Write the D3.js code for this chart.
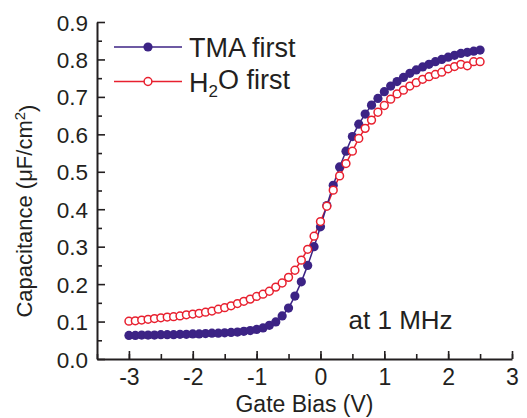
<!DOCTYPE html>
<html>
<head>
<meta charset="utf-8">
<script src="https://cdn.jsdelivr.net/npm/d3@7"></script>
<style>
  body { margin: 0; background: #fff; }
  text { font-family: "Liberation Sans", Arial, sans-serif; fill: #231f20; }
</style>
</head>
<body>
<div id="chart"></div>
<script>
// gate bias (V), one reading per 0.1 V
var bias = [-3.0, -2.9, -2.8, -2.7, -2.6, -2.5, -2.4, -2.3, -2.2, -2.1,
            -2.0, -1.9, -1.8, -1.7, -1.6, -1.5, -1.4, -1.3, -1.2, -1.1,
            -1.0, -0.9, -0.8, -0.7, -0.6, -0.5, -0.4, -0.3, -0.2, -0.1,
             0.0,  0.1,  0.2,  0.3,  0.4,  0.5,  0.6,  0.7,  0.8,  0.9,
             1.0,  1.1,  1.2,  1.3,  1.4,  1.5,  1.6,  1.7,  1.8,  1.9,
             2.0,  2.1,  2.2,  2.3,  2.4,  2.5];

var tmaFirst = [0.063, 0.063, 0.064, 0.064, 0.064, 0.065, 0.065, 0.065, 0.066, 0.066,
                0.067, 0.067, 0.068, 0.069, 0.069, 0.070, 0.071, 0.072, 0.074, 0.076,
                0.079, 0.083, 0.090, 0.099, 0.115, 0.136, 0.168, 0.206, 0.250, 0.300,
                0.353, 0.410, 0.464, 0.513, 0.555, 0.594, 0.627, 0.654, 0.678, 0.696,
                0.714, 0.729, 0.741, 0.752, 0.763, 0.772, 0.780, 0.787, 0.794, 0.800,
                0.806, 0.811, 0.816, 0.819, 0.822, 0.825];

var h2oFirst = [0.101, 0.102, 0.104, 0.106, 0.108, 0.110, 0.112, 0.113, 0.115, 0.118,
                0.120, 0.122, 0.125, 0.128, 0.133, 0.137, 0.142, 0.148, 0.154, 0.160,
                0.167, 0.173, 0.181, 0.192, 0.203, 0.218, 0.237, 0.264, 0.293, 0.328,
                0.367, 0.408, 0.451, 0.489, 0.522, 0.555, 0.589, 0.616, 0.638, 0.659,
                0.677, 0.694, 0.708, 0.718, 0.729, 0.738, 0.747, 0.754, 0.760, 0.766,
                0.775, 0.781, 0.787, 0.783, 0.794, 0.794];

var xTicks = [-3, -2, -1, 0, 1, 2, 3];
var yTicks = [0.0, 0.1, 0.2, 0.3, 0.4, 0.5, 0.6, 0.7, 0.8, 0.9];

var purple = "#3c2385", red = "#e8202f";

var W = 527, H = 418;
var margin = {top: 22, right: 15, bottom: 59, left: 97},
    width = W - margin.left - margin.right,
    height = H - margin.top - margin.bottom;

var svg = d3.select("#chart").append("svg")
    .attr("width", W)
    .attr("height", H)
  .append("g")
    .attr("transform", "translate(" + margin.left + "," + margin.top + ")");

var x = d3.scaleLinear().domain([-3.5, 3]).range([0, width]);
var y = d3.scaleLinear().domain([0, 0.9]).range([height, 0]);

// minor ticks first (short, inward)
svg.append("g")
    .attr("transform", "translate(0," + height + ")")
    .call(d3.axisBottom(x).tickValues(d3.range(-3.5, 3.01, 0.5)).tickSize(-5).tickFormat(""))
    .call(function(g) { g.select(".domain").remove(); });
svg.append("g")
    .call(d3.axisLeft(y).tickValues(d3.range(0.05, 0.9, 0.1)).tickSize(-5).tickFormat(""))
    .call(function(g) { g.select(".domain").remove(); });

// major axes (plain hyphen for negatives, like the original)
var xAxis = svg.append("g")
    .attr("class", "x axis")
    .attr("transform", "translate(0," + height + ")")
    .call(d3.axisBottom(x).tickValues(xTicks).tickSize(-8).tickSizeOuter(0).tickPadding(13)
      .tickFormat(function(d) { return String(d); }));
var yAxis = svg.append("g")
    .attr("class", "y axis")
    .call(d3.axisLeft(y).tickValues(yTicks).tickSize(-8).tickSizeOuter(0).tickPadding(9)
      .tickFormat(function(d) { return d.toFixed(1); }));

svg.selectAll(".tick line").attr("stroke", "#231f20").attr("stroke-width", 1.6);
svg.selectAll(".domain").attr("stroke", "#231f20").attr("stroke-width", 2);
xAxis.selectAll("text").style("font-size", "23px").attr("dy", "0.55em");
yAxis.selectAll("text").style("font-size", "22.5px").attr("dy", "0.36em");

// axis titles
svg.append("text")
    .attr("x", x(-0.25))
    .attr("y", height + 53)
    .attr("text-anchor", "middle")
    .style("font-size", "23px")
    .text("Gate Bias (V)");

var ylab = svg.append("text")
    .attr("transform", "translate(" + (-65) + "," + y(0.395) + ") rotate(-90)")
    .attr("text-anchor", "middle")
    .style("font-size", "22px");
ylab.append("tspan").text("Capacitance (\u03bcF/cm");
ylab.append("tspan").attr("dy", "-0.45em").style("font-size", "15px").text("2");
ylab.append("tspan").attr("dy", "0.45em").text(")");

// series
var tmaData = bias.map(function(b, i) { return {v: b, c: tmaFirst[i]}; });
var h2oData = bias.map(function(b, i) { return {v: b, c: h2oFirst[i]}; });

var line = d3.line()
    .x(function(d) { return x(d.v); })
    .y(function(d) { return y(d.c); });

svg.append("path").datum(h2oData)
    .attr("fill", "none").attr("stroke", red).attr("stroke-width", 1.5)
    .attr("d", line);
svg.append("path").datum(tmaData)
    .attr("fill", "none").attr("stroke", purple).attr("stroke-width", 1.5)
    .attr("d", line);

svg.selectAll("circle.tma")
    .data(tmaData)
    .enter()
    .append("circle")
    .attr("class", "tma")
    .attr("cx", function(d) { return x(d.v); })
    .attr("cy", function(d) { return y(d.c); })
    .attr("r", 4.6)
    .attr("fill", purple);

svg.selectAll("circle.h2o")
    .data(h2oData)
    .enter()
    .append("circle")
    .attr("class", "h2o")
    .attr("cx", function(d) { return x(d.v); })
    .attr("cy", function(d) { return y(d.c); })
    .attr("r", 3.9)
    .attr("fill", "#fff")
    .attr("stroke", red)
    .attr("stroke-width", 1.5);

// legend
var legend = svg.append("g").attr("transform", "translate(17,25)");
legend.append("line").attr("x1", 0).attr("x2", 68).attr("y1", 0).attr("y2", 0)
    .attr("stroke", purple).attr("stroke-width", 1.5);
legend.append("circle").attr("cx", 34).attr("cy", 0).attr("r", 4.6).attr("fill", purple);
legend.append("text").attr("x", 75).attr("y", 10).style("font-size", "27px").text("TMA first");

legend.append("line").attr("x1", 0).attr("x2", 68).attr("y1", 34.5).attr("y2", 34.5)
    .attr("stroke", red).attr("stroke-width", 1.5);
legend.append("circle").attr("cx", 34).attr("cy", 34.5).attr("r", 3.9)
    .attr("fill", "#fff").attr("stroke", red).attr("stroke-width", 1.5);
var h2oLabel = legend.append("text").attr("x", 75).attr("y", 44.5).style("font-size", "27px");
h2oLabel.append("tspan").text("H");
h2oLabel.append("tspan").attr("dy", "0.3em").style("font-size", "17px").text("2");
h2oLabel.append("tspan").attr("dy", "-0.3em").text("O first");

// annotation
svg.append("text")
    .attr("x", x(0.44))
    .attr("y", y(0.08))
    .style("font-size", "26px")
    .text("at 1 MHz");
</script>
</body>
</html>
